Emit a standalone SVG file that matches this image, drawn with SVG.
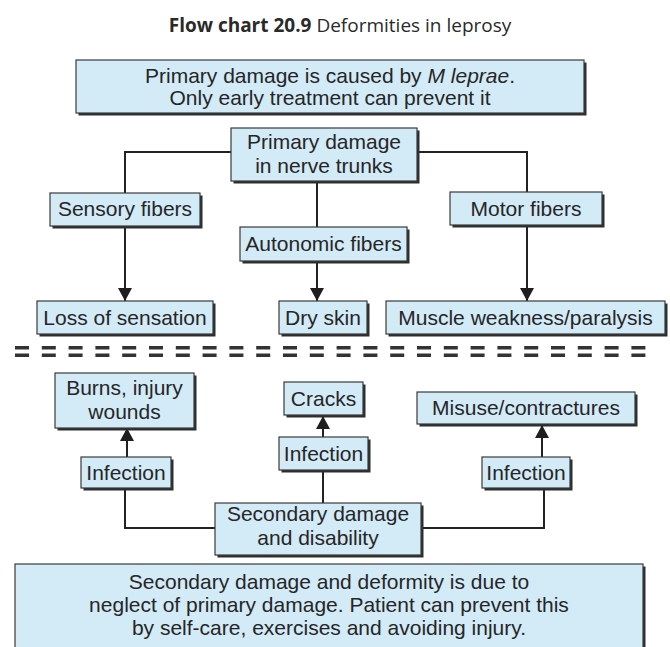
<svg xmlns="http://www.w3.org/2000/svg" width="670" height="647" viewBox="0 0 670 647">
<defs>
<style>
.sh{fill:#2e2e2e}
.bx{fill:#d3eaf7;stroke:#3a3a3a;stroke-width:1.2}
.t{font-family:"Liberation Sans",Arial,sans-serif;font-size:21px;fill:#262626;text-anchor:middle}
.ln{fill:none;stroke:#222;stroke-width:2}
.ttl{font-family:"Open Sans","Noto Sans",sans-serif;font-size:19px;fill:#2a2a2a;text-anchor:middle}
</style>
<marker id="ah" markerUnits="userSpaceOnUse" markerWidth="14" markerHeight="14" viewBox="0 0 14 14" refX="13" refY="7" orient="auto">
<path d="M0,0 L13,7 L0,14 Z" fill="#1e1e1e"/>
</marker>
</defs>
<rect width="670" height="647" fill="#ffffff"/>
<text class="ttl" x="340" y="32"><tspan font-weight="bold">Flow chart 20.9</tspan>  Deformities in leprosy</text>

<g id="connectors">
<path class="ln" d="M231 152 H125 V193"/>
<path class="ln" d="M417 152 H527 V192"/>
<path class="ln" d="M317 181 V227"/>
<path class="ln" d="M125 226 V301" marker-end="url(#ah)"/>
<path class="ln" d="M317 261 V301" marker-end="url(#ah)"/>
<path class="ln" d="M527 225 V301" marker-end="url(#ah)"/>
<path class="ln" d="M127 457 V428" marker-end="url(#ah)"/>
<path class="ln" d="M323 437 V416" marker-end="url(#ah)"/>
<path class="ln" d="M542 457 V425" marker-end="url(#ah)"/>
<path class="ln" d="M125 488 V528 H215"/>
<path class="ln" d="M544 488 V528 H421"/>
<path class="ln" d="M323 470 V503"/>
</g>

<g id="separator">
<line x1="15" y1="347.8" x2="646" y2="347.8" stroke="#333" stroke-width="3.5" stroke-dasharray="14 12.8"/>
<line x1="15" y1="355.3" x2="646" y2="355.3" stroke="#333" stroke-width="3.5" stroke-dasharray="14 12.8"/>
</g>

<g id="top">
<rect class="sh" x="78.5" y="62.5" width="508" height="53"/>
<rect class="bx" x="76" y="60" width="508" height="53"/>
<text class="t" x="330" y="83">Primary damage is caused by <tspan font-style="italic">M leprae</tspan>.</text>
<text class="t" x="330" y="105">Only early treatment can prevent it</text>
</g>

<g id="nerve">
<rect class="sh" x="233.5" y="130.5" width="186" height="53"/>
<rect class="bx" x="231" y="128" width="186" height="53"/>
<text class="t" x="324" y="149">Primary damage</text>
<text class="t" x="324" y="173">in nerve trunks</text>
</g>

<g id="sensory">
<rect class="sh" x="52.5" y="195.5" width="150" height="33"/>
<rect class="bx" x="50" y="193" width="150" height="33"/>
<text class="t" x="125" y="216">Sensory fibers</text>
</g>

<g id="motor">
<rect class="sh" x="452.5" y="194.5" width="152" height="33"/>
<rect class="bx" x="450" y="192" width="152" height="33"/>
<text class="t" x="526" y="216">Motor fibers</text>
</g>

<g id="autonomic">
<rect class="sh" x="242.5" y="229.5" width="167" height="34"/>
<rect class="bx" x="240" y="227" width="167" height="34"/>
<text class="t" x="323.5" y="251">Autonomic fibers</text>
</g>

<g id="loss">
<rect class="sh" x="39.5" y="303.5" width="176" height="33"/>
<rect class="bx" x="37" y="301" width="176" height="33"/>
<text class="t" x="125" y="325">Loss of sensation</text>
</g>

<g id="dry">
<rect class="sh" x="281.5" y="303.5" width="88" height="33"/>
<rect class="bx" x="279" y="301" width="88" height="33"/>
<text class="t" x="323" y="325">Dry skin</text>
</g>

<g id="muscle">
<rect class="sh" x="388.5" y="303.5" width="279" height="33"/>
<rect class="bx" x="386" y="301" width="279" height="33"/>
<text class="t" x="525.5" y="325">Muscle weakness/paralysis</text>
</g>

<g id="burns">
<rect class="sh" x="57.5" y="375.5" width="139" height="55"/>
<rect class="bx" x="55" y="373" width="139" height="55"/>
<text class="t" x="124.5" y="395">Burns, injury</text>
<text class="t" x="124.5" y="419">wounds</text>
</g>

<g id="cracks">
<rect class="sh" x="286.5" y="384.5" width="79" height="33"/>
<rect class="bx" x="284" y="382" width="79" height="33"/>
<text class="t" x="323.5" y="406">Cracks</text>
</g>

<g id="misuse">
<rect class="sh" x="419.5" y="394.5" width="218" height="32"/>
<rect class="bx" x="417" y="392" width="218" height="32"/>
<text class="t" x="526" y="415">Misuse/contractures</text>
</g>

<g id="infection-left">
<rect class="sh" x="83.5" y="459.5" width="90" height="31"/>
<rect class="bx" x="81" y="457" width="90" height="31"/>
<text class="t" x="126" y="480">Infection</text>
</g>

<g id="infection-center">
<rect class="sh" x="281.5" y="439.5" width="89" height="33"/>
<rect class="bx" x="279" y="437" width="89" height="33"/>
<text class="t" x="323.5" y="461">Infection</text>
</g>

<g id="infection-right">
<rect class="sh" x="484.5" y="459.5" width="88" height="31"/>
<rect class="bx" x="482" y="457" width="88" height="31"/>
<text class="t" x="526" y="480">Infection</text>
</g>

<g id="secondary">
<rect class="sh" x="217.5" y="505.5" width="206" height="52"/>
<rect class="bx" x="215" y="503" width="206" height="52"/>
<text class="t" x="318" y="521">Secondary damage</text>
<text class="t" x="318" y="545">and disability</text>
</g>

<g id="bottom">
<rect class="sh" x="17.5" y="566.5" width="628" height="90"/>
<rect class="bx" x="15" y="564" width="628" height="90"/>
<text class="t" x="329" y="589">Secondary damage and deformity is due to</text>
<text class="t" x="329" y="612">neglect of primary damage. Patient can prevent this</text>
<text class="t" x="329" y="635">by self-care, exercises and avoiding injury.</text>
</g>
</svg>
